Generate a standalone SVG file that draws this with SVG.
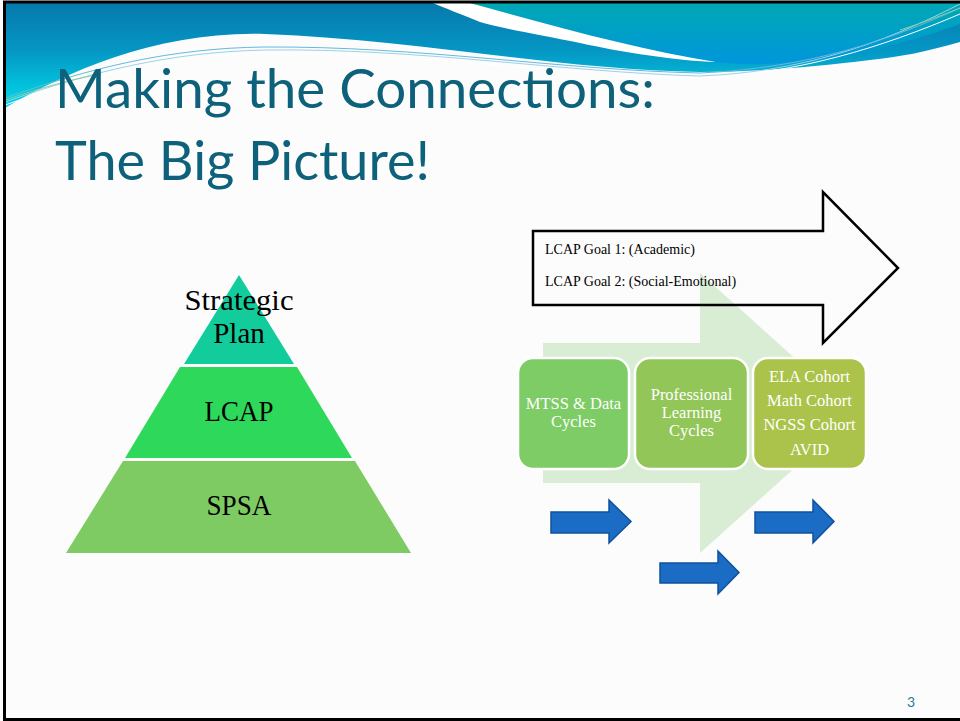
<svg xmlns="http://www.w3.org/2000/svg" width="960" height="721" viewBox="0 0 960 721">
<defs>
<linearGradient id="bandG" x1="0" y1="0" x2="0" y2="1">
<stop offset="0" stop-color="#0679AC"/>
<stop offset="0.45" stop-color="#0596C4"/>
<stop offset="1" stop-color="#00DCEA"/>
</linearGradient>
<linearGradient id="rightG" x1="0" y1="0" x2="0" y2="1">
<stop offset="0" stop-color="#00A8B4"/>
<stop offset="1" stop-color="#0096DC"/>
</linearGradient>
<style>
.title{font-family:Lato,"Liberation Sans",sans-serif;fill:#0E617B;font-size:55px}
.pyr{font-family:"Liberation Serif",serif;fill:#000;font-size:29px;text-anchor:middle}
.box{stroke:#FFFFFF;stroke-width:2.5}
.bt{font-family:"Liberation Serif",serif;fill:#FFFFFF;font-size:16.5px;text-anchor:middle}
.goal{font-family:"Liberation Serif",serif;fill:#000;font-size:14px}
.blue{fill:#1B6CC4;stroke:#11509C;stroke-width:1.5;stroke-linejoin:miter}
.ln{fill:none;stroke-width:1}
</style>
</defs>
<rect x="0" y="0" width="960" height="721" fill="#FCFCFC"/>
<g id="banner">
<path d="M5,3 L960,3 L960,42 C925,52 900,57 870,60 C810,67 760,72 700,72 C560,70 420,40 265,34 C160,31 70,70 5,108 Z" fill="url(#bandG)"/>
<path d="M470,3 L960,3 L960,24 C900,46 820,66 740,64 C720,63 716,62 715,62 C640,50 560,28 470,3 Z" fill="url(#rightG)"/>
<path d="M433,3 L470,3 C560,28 640,50 716,62 C680,61 620,52 580,43 C540,35 500,28 480,22 C460,14 445,8 433,3 Z" fill="#FFFFFF"/>
<path class="ln" stroke="#9AD3EA" d="M5,102 C90,72 170,52 265,50 C420,48 560,72 700,76 C800,72 880,45 960,4"/>
<path class="ln" stroke="#66B8DC" d="M5,98 C90,68 170,48 265,47 C420,46 560,70 700,73 C810,68 890,40 960,8"/>
<path class="ln" stroke="#FFFFFF" d="M5,105 C90,75 170,55 265,53 C420,52 560,76 700,78 C800,73 880,48 960,14"/>
<path class="ln" stroke="#7ED39A" d="M5,100 C40,88 70,80 100,74"/>
<path class="ln" stroke="#7ED39A" d="M900,30 C925,22 945,14 960,8"/>
</g>
<rect x="4.5" y="2" width="960" height="717.5" fill="none" stroke="#000" stroke-width="3"/>
<g id="title">
<text class="title" x="55" y="108" textLength="600" lengthAdjust="spacingAndGlyphs">Making the Connections:</text>
<text class="title" x="55" y="180" textLength="375" lengthAdjust="spacingAndGlyphs">The Big Picture!</text>
</g>
<g id="pyramid">
<g id="tier-strategic">
<polygon points="239,275 294,364 184,364" fill="#12CC9C"/>
<text class="pyr" x="239" y="310" textLength="109" lengthAdjust="spacingAndGlyphs">Strategic</text>
<text class="pyr" x="239" y="343">Plan</text>
</g>
<g id="tier-lcap">
<polygon points="180,367 297,367 352,458 125,458" fill="#2ED85A"/>
<text class="pyr" x="239" y="421" textLength="69" lengthAdjust="spacingAndGlyphs">LCAP</text>
</g>
<g id="tier-spsa">
<polygon points="123,461 355,461 411,553 66,553" fill="#7ECB63"/>
<text class="pyr" x="239" y="515" textLength="65" lengthAdjust="spacingAndGlyphs">SPSA</text>
</g>
</g>
<g id="flow-arrow">
<polygon points="543,343 700,343 700,273 856,413 700,553 700,483 543,483" fill="#D8EDD4"/>
</g>
<g id="goals">
<polygon points="533,231 823,231 823,192 898,268 823,343 823,305 533,305" fill="none" stroke="#000" stroke-width="2.5"/>
<text class="goal" x="545" y="254">LCAP Goal 1: (Academic)</text>
<text class="goal" x="545" y="286">LCAP Goal 2: (Social-Emotional)</text>
</g>
<g id="box-mtss">
<rect class="box" x="518" y="358" width="111" height="111" rx="15" fill="#7DCC65"/>
<text class="bt" x="573.5" y="409">MTSS &amp; Data</text>
<text class="bt" x="573.5" y="427">Cycles</text>
</g>
<g id="box-pl">
<rect class="box" x="635" y="358" width="113" height="111" rx="15" fill="#93C658"/>
<text class="bt" x="691.5" y="400">Professional</text>
<text class="bt" x="691.5" y="418">Learning</text>
<text class="bt" x="691.5" y="436">Cycles</text>
</g>
<g id="box-cohorts">
<rect class="box" x="753" y="358" width="113" height="111" rx="15" fill="#ABC34A"/>
<text class="bt" x="809.5" y="382">ELA Cohort</text>
<text class="bt" x="809.5" y="406">Math Cohort</text>
<text class="bt" x="809.5" y="430">NGSS Cohort</text>
<text class="bt" x="809.5" y="455">AVID</text>
</g>
<g id="connectors">
<polygon class="blue" points="551,512 609,512 609,500 631,521.5 609,543 609,533 551,533"/>
<polygon class="blue" points="660,563 718,563 718,551 739,572.5 718,594 718,583 660,583"/>
<polygon class="blue" points="755,512 813,512 813,500 834,521.5 813,543 813,533 755,533"/>
</g>
<text x="911" y="707" font-family="Lato,'Liberation Sans',sans-serif" font-size="14" fill="#1F7A96" text-anchor="middle">3</text>
</svg>
